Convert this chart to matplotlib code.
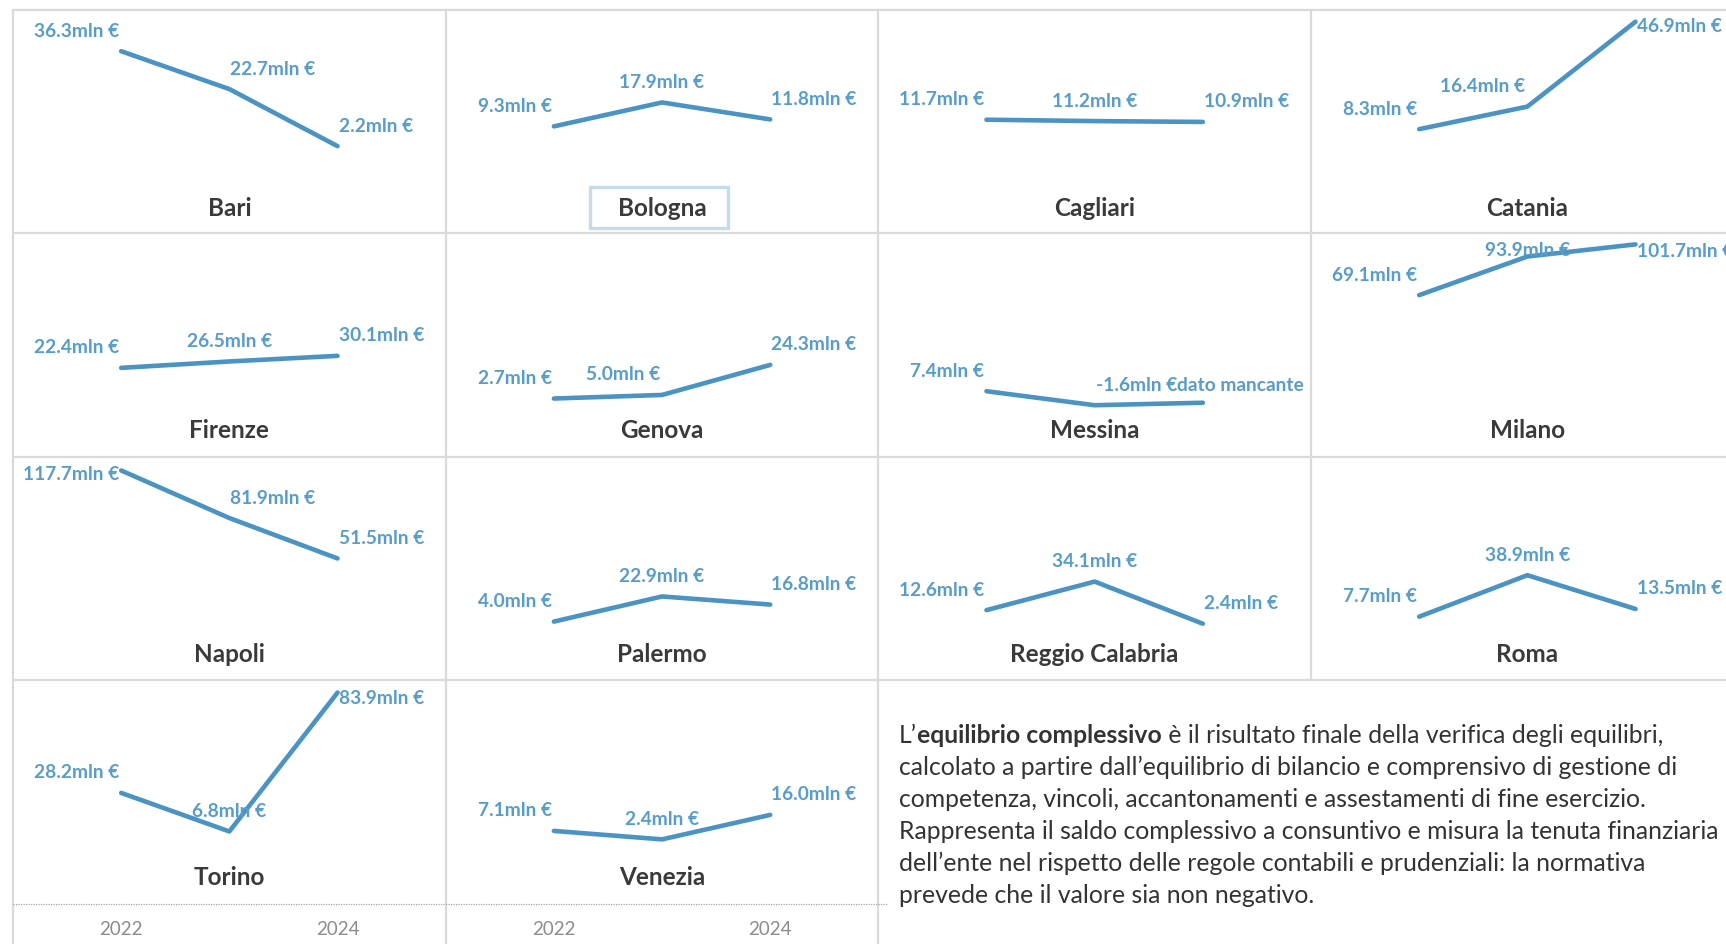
import matplotlib
matplotlib.use("Agg")
import matplotlib.pyplot as plt
from matplotlib.lines import Line2D
from matplotlib.patches import Rectangle
import pandas as pd

# ---------------- data ----------------
years = [2022, 2023, 2024]
cities = ["Bari", "Bologna", "Cagliari", "Catania",
          "Firenze", "Genova", "Messina", "Milano",
          "Napoli", "Palermo", "Reggio Calabria", "Roma",
          "Torino", "Venezia"]
bari = [36.3, 22.7, 2.2]
bologna = [9.3, 17.9, 11.8]
cagliari = [11.7, 11.2, 10.9]
catania = [8.3, 16.4, 46.9]
firenze = [22.4, 26.5, 30.1]
genova = [2.7, 5.0, 24.3]
messina = [7.4, -1.6, None]
milano = [69.1, 93.9, 101.7]
napoli = [117.7, 81.9, 51.5]
palermo = [4.0, 22.9, 16.8]
reggio = [12.6, 34.1, 2.4]
roma = [7.7, 38.9, 13.5]
torino = [28.2, 6.8, 83.9]
venezia = [7.1, 2.4, 16.0]
series = [bari, bologna, cagliari, catania, firenze, genova, messina, milano,
          napoli, palermo, reggio, roma, torino, venezia]
missing_label = "dato mancante"
year_ticks = [2022, 2024]
selected_city = "Bologna"

df = pd.DataFrame({c: v for c, v in zip(cities, series)}, index=years)

text_lines = [
    [("L’", "normal"), ("equilibrio complessivo", "bold"),
     (" è il risultato finale della verifica degli equilibri,", "normal")],
    [("calcolato a partire dall’equilibrio di bilancio e comprensivo di gestione di", "normal")],
    [("competenza, vincoli, accantonamenti e assestamenti di fine esercizio.", "normal")],
    [("Rappresenta il saldo complessivo a consuntivo e misura la tenuta finanziaria", "normal")],
    [("dell’ente nel rispetto delle regole contabili e prudenziali: la normativa", "normal")],
    [("prevede che il valore sia non negativo.", "normal")],
]

# ---------------- style / layout ----------------
W, H, DPI = 1726, 945, 100
FONT = ["Lato", "DejaVu Sans"]
LINE_C = "#4a93c2"
LABEL_C = "#579dcb"
TITLE_C = "#3a3a3a"
GRID_C = "#dadada"
A = 21  # label offset above point (px)
label_pos = {
    "Bari": [("right", A), ("left", A), ("left", A)],
    "Bologna": [("right", A), ("center", A), ("left", A)],
    "Cagliari": [("right", A), ("center", A), ("left", A)],
    "Catania": [("right", A), ("right", A), ("left", -4)],
    "Firenze": [("right", A), ("center", A), ("left", A)],
    "Genova": [("right", A), ("right", A), ("left", A)],
    "Messina": [("right", A), ("left", A), ("left", A)],
    "Milano": [("right", A), ("center", 7), ("left", -6)],
    "Napoli": [("right", -3), ("left", A), ("left", A)],
    "Palermo": [("right", A), ("center", A), ("left", A)],
    "Reggio Calabria": [("right", A), ("center", A), ("left", A)],
    "Roma": [("right", A), ("center", A), ("left", A)],
    "Torino": [("right", A), ("center", A), ("left", -5)],
    "Venezia": [("right", A), ("center", A), ("left", A)],
}
row_ylims = [(-29.1, 51.1), (-34.4, 109.0), (-39.8, 128.2), (-33.1, 90.9)]
col_left = [13, 445.7, 878.3, 1311]
row_top = [11, 234, 457.5, 681]
CW, CH = 432.7, 223.3

plt.rcParams["font.family"] = FONT

fig = plt.figure(figsize=(W / DPI, H / DPI), dpi=DPI)
fig.patch.set_facecolor("white")


def fx(px):
    return px / W


def fy(py):
    return 1 - py / H


def fline(x0, x1, y0, y1, **kw):
    fig.add_artist(Line2D([fx(x0), fx(x1)], [fy(y0), fy(y1)],
                          transform=fig.transFigure, **kw))


# grid lines
for y in row_top:
    fline(13, W + 50, y, y, color=GRID_C, lw=1.6, zorder=0)
for x in [13, 445.7, 878.3]:
    fline(x, x, 11, H + 5, color=GRID_C, lw=1.6, zorder=0)
fline(1311, 1311, 11, 681, color=GRID_C, lw=1.6, zorder=0)
fline(13, 887, 905, 905, color="#a8a8a8", lw=0.9, ls=(0, (1, 1)), zorder=0)

for i, city in enumerate(cities):
    r, c = divmod(i, 4)
    ax = fig.add_axes([fx(col_left[c]), fy(row_top[r] + CH), CW / W, CH / H])
    ax.set_xlim(2021, 2025)
    ax.set_ylim(*row_ylims[r])
    ax.axis("off")
    vals = df[city]
    ax.plot(years, vals.fillna(0).values, color=LINE_C, lw=3.3,
            solid_capstyle="round", solid_joinstyle="round", clip_on=False)
    prev = None
    for j, (yr, v) in enumerate(zip(years, vals.values)):
        ha, dy = label_pos[city][j]
        dx = {"right": -2, "left": 1, "center": 0}[ha]
        if pd.isna(v):
            ax.annotate(missing_label, xy=(1, 0.5), xycoords=prev,
                        ha="left", va="center", color=LABEL_C,
                        fontsize=13.8, fontweight="bold", annotation_clip=False)
            continue
        prev = ax.annotate(f"{v:.1f}mln €", xy=(yr, v), xytext=(dx, dy),
                           textcoords="offset pixels", ha=ha, va="center",
                           color=LABEL_C, fontsize=13.8, fontweight="bold",
                           annotation_clip=False)
    cx = col_left[c] + CW / 2
    cy = row_top[r] + 197
    fig.text(fx(cx), fy(cy), city, ha="center", va="center", fontsize=17.5,
             fontweight="bold", color=TITLE_C)
    if city == selected_city:
        fig.add_artist(Rectangle((fx(cx - 72), fy(cy + 21)), 138 / W, 41 / H,
                                 transform=fig.transFigure, fill=False,
                                 ec="#c3dbea", lw=2.4))
    if r == 3:
        for yt in year_ticks:
            px = col_left[c] + CW * (yt - 2021) / 4
            fig.text(fx(px), fy(930), str(yt), ha="center", va="center",
                     fontsize=13.5, color="#8c8c8c")

# explanatory text
fig.canvas.draw()
base_x, base_y, lh = 899, 743, 32
for k, parts in enumerate(text_lines):
    y = base_y + k * lh
    prev = None
    for txt, wt in parts:
        if prev is None:
            prev = fig.text(fx(base_x), fy(y), txt, ha="left", va="baseline",
                            fontsize=17.8, fontweight=wt, color="#333333")
        else:
            prev = fig.text(0, 0, txt, fontsize=17.8, fontweight=wt, color="#333333",
                            ha="left", va="baseline")
            fig.canvas.draw()
            bb = fig.texts[-2].get_window_extent()
            prev.set_position((bb.x1 / W, fy(y)))

fig.savefig("out.png", dpi=DPI, facecolor="white")
